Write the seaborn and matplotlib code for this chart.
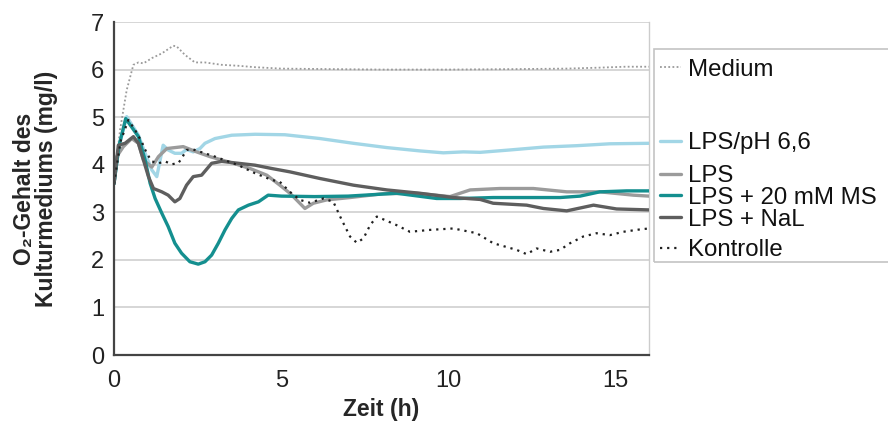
import numpy as np
import pandas as pd
import matplotlib
matplotlib.use("Agg")
import matplotlib.pyplot as plt
from matplotlib.lines import Line2D
from matplotlib.patches import Rectangle
import seaborn as sns

# ---- data ----
medium_t = [0.0, 0.18, 0.38, 0.58, 0.73, 0.88, 1.13, 1.43, 1.77, 1.87, 2.12, 2.42, 2.72, 3.22, 3.71, 4.22, 5.01, 6.5, 8.0, 10.0, 12.0, 13.5, 14.5, 15.3, 16.0]
medium_v = [3.6, 4.73, 5.57, 6.10, 6.15, 6.13, 6.24, 6.34, 6.50, 6.49, 6.31, 6.15, 6.15, 6.10, 6.08, 6.05, 6.02, 6.01, 6.0, 6.0, 6.01, 6.02, 6.04, 6.06, 6.06]

ph_t = [0.0, 0.15, 0.38, 0.73, 0.93, 1.13, 1.28, 1.38, 1.47, 1.62, 1.82, 2.02, 2.17, 2.37, 2.57, 2.72, 3.02, 3.52, 4.22, 5.11, 6.16, 7.16, 8.16, 9.15, 9.85, 10.45, 10.95, 11.84, 12.84, 13.84, 14.83, 16.0]
ph_v = [3.6, 4.4, 5.01, 4.62, 4.24, 3.89, 3.75, 4.10, 4.41, 4.31, 4.24, 4.24, 4.32, 4.27, 4.34, 4.45, 4.55, 4.62, 4.64, 4.63, 4.55, 4.45, 4.36, 4.29, 4.25, 4.27, 4.26, 4.31, 4.37, 4.40, 4.44, 4.45]

lps_t = [0.0, 0.08, 0.28, 0.53, 0.73, 0.88, 1.13, 1.33, 1.58, 2.07, 2.47, 2.87, 3.57, 4.07, 4.57, 4.96, 5.26, 5.46, 5.71, 5.96, 6.36, 7.06, 8.05, 9.05, 10.05, 10.65, 11.54, 12.54, 13.54, 14.53, 15.53, 16.0]
lps_v = [3.6, 4.17, 4.38, 4.55, 4.45, 4.10, 3.95, 4.17, 4.34, 4.38, 4.27, 4.17, 4.03, 3.92, 3.78, 3.57, 3.40, 3.26, 3.08, 3.19, 3.26, 3.31, 3.39, 3.40, 3.33, 3.47, 3.50, 3.50, 3.43, 3.43, 3.36, 3.34]

ms_t = [0.0, 0.15, 0.35, 0.73, 0.93, 1.08, 1.23, 1.43, 1.62, 1.82, 2.02, 2.27, 2.52, 2.72, 2.92, 3.12, 3.32, 3.52, 3.72, 4.02, 4.32, 4.61, 5.01, 6.0, 7.0, 8.45, 9.65, 10.35, 11.34, 12.34, 13.34, 13.94, 14.53, 15.33, 16.0]
ms_v = [3.6, 4.4, 4.97, 4.59, 4.10, 3.61, 3.29, 2.98, 2.70, 2.35, 2.14, 1.96, 1.91, 1.96, 2.10, 2.35, 2.63, 2.87, 3.05, 3.15, 3.22, 3.36, 3.34, 3.33, 3.34, 3.40, 3.29, 3.29, 3.31, 3.31, 3.31, 3.34, 3.43, 3.45, 3.45]

nal_t = [0.0, 0.13, 0.33, 0.58, 0.73, 0.88, 1.03, 1.18, 1.43, 1.62, 1.82, 1.97, 2.17, 2.37, 2.62, 2.92, 3.22, 3.72, 4.22, 4.72, 5.26, 6.16, 7.16, 8.16, 9.15, 10.15, 10.95, 11.34, 12.34, 12.84, 13.54, 14.34, 15.03, 16.0]
nal_v = [3.6, 4.41, 4.45, 4.59, 4.45, 4.10, 3.75, 3.50, 3.43, 3.36, 3.22, 3.29, 3.57, 3.75, 3.78, 4.03, 4.07, 4.03, 3.99, 3.92, 3.85, 3.71, 3.57, 3.47, 3.40, 3.31, 3.27, 3.19, 3.15, 3.08, 3.03, 3.15, 3.07, 3.05]

ko_t = [0.0, 0.2, 0.43, 0.63, 0.83, 0.98, 1.13, 1.33, 1.53, 1.72, 1.92, 2.02, 2.17, 2.37, 3.02, 3.72, 4.22, 4.72, 4.96, 5.26, 5.56, 5.86, 6.26, 6.56, 6.81, 7.06, 7.26, 7.46, 7.66, 7.86, 8.16, 8.45, 8.85, 9.45, 10.15, 10.85, 11.34, 11.64, 12.04, 12.34, 12.64, 13.04, 13.34, 13.64, 14.03, 14.43, 14.83, 15.23, 15.73, 16.0]
ko_v = [3.6, 4.5, 4.94, 4.73, 4.48, 4.24, 4.07, 4.03, 4.07, 4.01, 4.03, 4.13, 4.31, 4.32, 4.17, 3.99, 3.82, 3.68, 3.64, 3.43, 3.26, 3.20, 3.29, 3.22, 2.84, 2.49, 2.36, 2.45, 2.73, 2.91, 2.82, 2.73, 2.59, 2.63, 2.66, 2.56, 2.35, 2.29, 2.21, 2.12, 2.24, 2.17, 2.21, 2.35, 2.49, 2.56, 2.52, 2.59, 2.64, 2.66]

series_names = ["Medium", "LPS/pH 6,6", "LPS", "LPS + 20 mM MS", "LPS + NaL", "Kontrolle"]
x_ticks = [0, 5, 10, 15]
y_ticks = [0, 1, 2, 3, 4, 5, 6, 7]

# ---- build long table ----
frames = []
for name, t, v in zip(series_names,
                      [medium_t, ph_t, lps_t, ms_t, nal_t, ko_t],
                      [medium_v, ph_v, lps_v, ms_v, nal_v, ko_v]):
    frames.append(pd.DataFrame({"Zeit": t, "O2": v, "Serie": name}))
df = pd.concat(frames, ignore_index=True)

styles = {
    "Medium":         dict(color="#9a9a9a", lw=1.3, ls=(0, (1, 1.3))),
    "LPS/pH 6,6":     dict(color="#a2d6e6", lw=2.4, ls="-"),
    "LPS":            dict(color="#9b9b9b", lw=2.4, ls="-"),
    "LPS + 20 mM MS": dict(color="#148f8f", lw=2.4, ls="-"),
    "LPS + NaL":      dict(color="#5e5e5e", lw=2.4, ls="-"),
    "Kontrolle":      dict(color="#202020", lw=1.6, ls=(0, (1, 2.2))),
}

sns.set_theme(style="white")
plt.rcParams["font.family"] = ["Liberation Sans", "DejaVu Sans"]

fig = plt.figure(figsize=(8.88, 4.26), dpi=100)
ax = fig.add_axes([114 / 888, 1 - 355 / 426, (649 - 114) / 888, (355 - 22) / 426])

for name in series_names:
    st = styles[name]
    sub = df[df["Serie"] == name]
    sns.lineplot(data=sub, x="Zeit", y="O2", ax=ax, color=st["color"],
                 linewidth=st["lw"], linestyle=st["ls"], estimator=None,
                 sort=False, legend=False, zorder=3)

ax.set_xlim(0, 16)
ax.set_ylim(0, 7)
ax.set_xticks(x_ticks)
ax.set_yticks(y_ticks)
ax.tick_params(axis="both", labelsize=17, colors="#222222", direction="inout",
               length=6, width=1.3, pad=4)
ax.tick_params(axis="x", pad=8)
ax.yaxis.grid(True, color="#cfcfcf", lw=1.2, zorder=0)
ax.xaxis.grid(False)
for s in ["left", "bottom"]:
    ax.spines[s].set_color("#444444")
    ax.spines[s].set_linewidth(1.6)
    ax.spines[s].set_zorder(4)
ax.spines["top"].set_visible(False)
ax.spines["right"].set_color("#cccccc")
ax.spines["right"].set_linewidth(1.0)

ax.set_xlabel("Zeit (h)", fontsize=16.5, fontweight="bold", labelpad=4)
ax.set_ylabel("O₂-Gehalt des\nKulturmediums (mg/l)", fontsize=16.5,
              fontweight="bold", linespacing=0.95)
ax.yaxis.set_label_coords(-0.105, 0.5)

# ---- legend box (positions as in the reference, box runs past the right border) ----
W, H = 888, 426
fig.patches.append(Rectangle((654 / W, 1 - 262 / H), 260 / W, (262 - 49) / H,
                             transform=fig.transFigure, fill=False,
                             edgecolor="#c4c4c4", lw=1.2))
entry_y = [67, 141, 174, 195, 217, 248]
for name, yy in zip(series_names, entry_y):
    st = styles[name]
    fy = 1 - yy / H
    fig.lines.append(Line2D([660 / W, 681 / W], [fy, fy], transform=fig.transFigure,
                            color=st["color"], lw=st["lw"], ls=st["ls"]))
    fig.text(688 / W, fy, name, fontsize=17.3, va="center_baseline", ha="left",
             color="#111111")

fig.savefig("out.png", dpi=100)
